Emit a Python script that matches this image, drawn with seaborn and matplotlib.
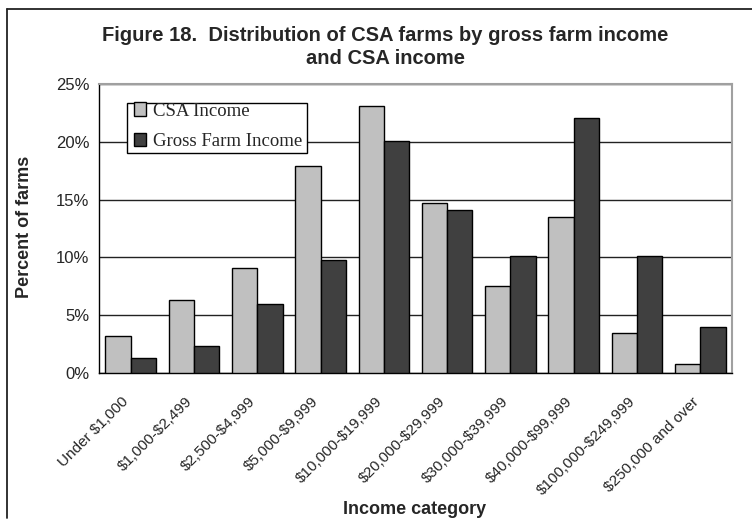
import matplotlib
matplotlib.use("Agg")
import matplotlib.pyplot as plt
from matplotlib.lines import Line2D
from matplotlib.patches import Patch, Rectangle
from matplotlib.ticker import FixedLocator, NullFormatter
from matplotlib.transforms import ScaledTranslation
import pandas as pd
import seaborn as sns

# Income categories and the share of farms (%) in each
categories = [
    "Under $1,000", "$1,000-$2,499", "$2,500-$4,999", "$5,000-$9,999",
    "$10,000-$19,999", "$20,000-$29,999", "$30,000-$39,999",
    "$40,000-$99,999", "$100,000-$249,999", "$250,000 and over",
]
csa_income = [3.2, 6.3, 9.1, 17.9, 23.1, 14.7, 7.5, 13.5, 3.5, 0.75]
gross_farm_income = [1.3, 2.3, 6.0, 9.8, 20.1, 14.1, 10.1, 22.1, 10.1, 4.0]
series_names = ["CSA Income", "Gross Farm Income"]
y_ticks = [0, 5, 10, 15, 20, 25]

df = pd.DataFrame({
    "category": categories * 2,
    "percent": csa_income + gross_farm_income,
    "series": [series_names[0]] * len(categories) + [series_names[1]] * len(categories),
})

sns.set_style("white")
plt.rcParams["font.family"] = ["Liberation Sans", "DejaVu Sans"]
plt.rcParams["text.parse_math"] = False  # dollar signs are literal

W, H = 752, 521
fig = plt.figure(figsize=(W / 100, H / 100), dpi=100)
ax = fig.add_axes([99 / W, (H - 373) / H, (732 - 99) / W, (373 - 84) / H])

colors = {"CSA Income": "#c0c0c0", "Gross Farm Income": "#404040"}
sns.barplot(
    data=df, x="category", y="percent", hue="series", order=categories,
    hue_order=series_names, palette=colors, saturation=1, width=0.8,
    edgecolor="black", linewidth=1.0, ax=ax, legend=False, zorder=3,
)

ax.set_xlim(-0.5, len(categories) - 0.5)
ax.set_ylim(0, 25)
ax.set_yticks(y_ticks)
ax.set_yticklabels([f"{t}%" for t in y_ticks], fontsize=12)
ax.yaxis.grid(True, color="#222222", linewidth=1.0, zorder=0)
ax.set_axisbelow(True)

# Category labels sit at bar-group centres; tick marks sit between groups
ax.set_xticks(range(len(categories)))
ax.set_xticklabels(categories, rotation=45, ha="right", va="center",
                   rotation_mode="anchor", fontsize=11)
ax.tick_params(axis="x", which="major", length=0, pad=19)
shift = ScaledTranslation(-4 / 100, 0, fig.dpi_scale_trans)
for lbl in ax.get_xticklabels():
    lbl.set_transform(lbl.get_transform() + shift)
ax.xaxis.set_minor_locator(FixedLocator([i - 0.5 for i in range(len(categories) + 1)]))
ax.xaxis.set_minor_formatter(NullFormatter())
ax.tick_params(axis="x", which="minor", length=5, width=1, color="black", direction="out")
ax.tick_params(axis="y", length=4, width=1, color="black", direction="out", pad=3)

ax.set_xlabel("")
ax.set_ylabel("")
for side in ("left", "bottom"):
    ax.spines[side].set_color("black")
    ax.spines[side].set_linewidth(1.0)
for side in ("top", "right"):
    ax.spines[side].set_color("#a0a0a0")
    ax.spines[side].set_linewidth(1.5)


def ax_x(px):
    return (px - 99) / (732 - 99)


def ax_y(py):
    return (373 - py) / (373 - 84)


# Legend box drawn separately so its padding can be set on each side
ax.add_patch(Rectangle((ax_x(127), ax_y(153)), ax_x(307) - ax_x(127),
                       ax_y(103) - ax_y(153), transform=ax.transAxes,
                       facecolor="white", edgecolor="black", linewidth=1.0,
                       zorder=4, clip_on=False))
handles = [Patch(facecolor=colors[s], edgecolor="black", linewidth=1.0) for s in series_names]
leg = ax.legend(
    handles, series_names, loc="upper left",
    bbox_to_anchor=(ax_x(134), ax_y(102.5)), borderaxespad=0, frameon=False,
    handlelength=0.66, handleheight=0.69, handletextpad=0.35,
    labelspacing=0.69, borderpad=0,
    prop={"family": ["Liberation Serif", "DejaVu Serif"], "size": 13.5},
)
leg.set_zorder(5)

fig.text(385 / W, 1 - 26 / H,
         "Figure 18.  Distribution of CSA farms by gross farm income\nand CSA income",
         ha="center", va="top", fontsize=14.5, fontweight="bold", linespacing=1.3)
fig.text(25 / W, 1 - 227 / H, "Percent of farms", rotation=90, ha="center",
         va="center", fontsize=13, fontweight="bold")
fig.text(415 / W, 1 - 509 / H, "Income category", ha="center", va="center",
         fontsize=13, fontweight="bold")

# Outer chart frame (left and top edges)
fig.add_artist(Line2D([7 / W, 7 / W], [1 - 518 / H, 1 - 9 / H], color="#222222",
                      linewidth=1.3, transform=fig.transFigure))
fig.add_artist(Line2D([7 / W, 1.0], [1 - 9 / H, 1 - 9 / H], color="#222222",
                      linewidth=1.3, transform=fig.transFigure))

fig.savefig("out.png", dpi=100)
